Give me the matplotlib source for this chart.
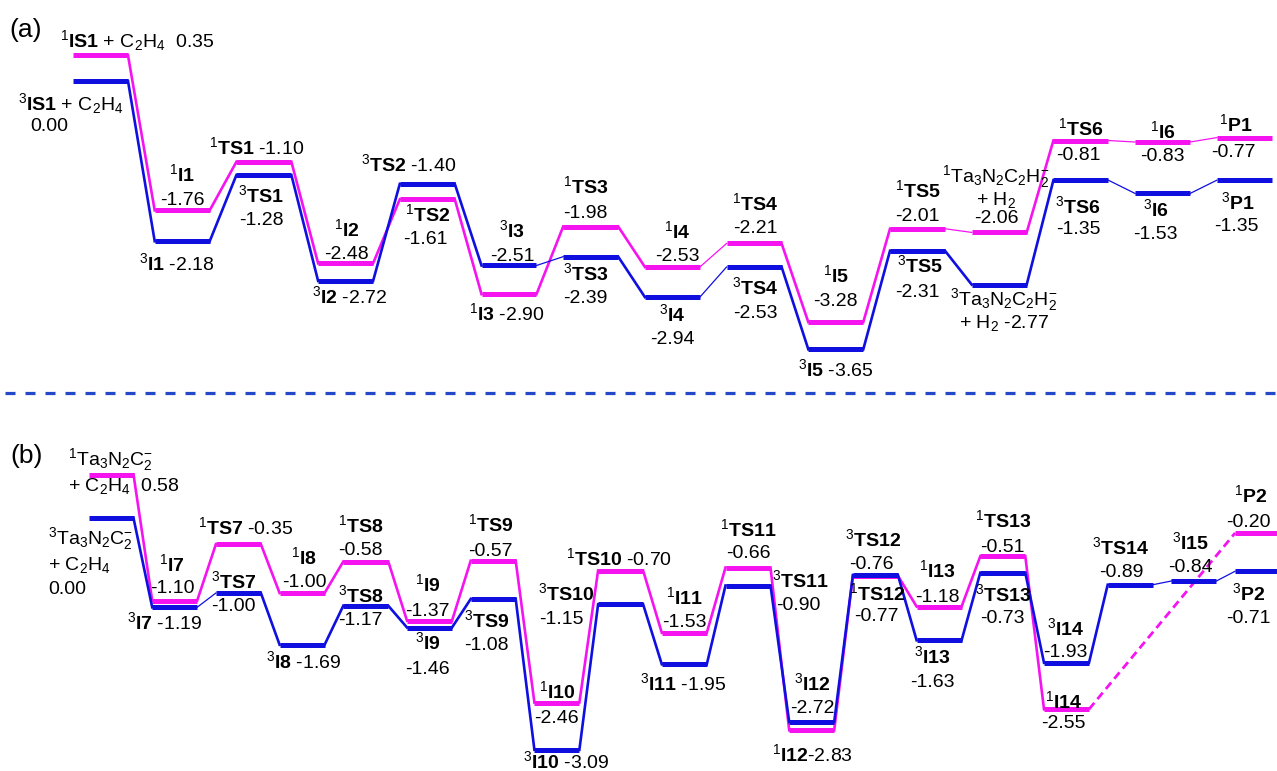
import matplotlib
matplotlib.use("Agg")
import matplotlib.pyplot as plt
from matplotlib.lines import Line2D

plt.rcParams['font.family'] = ['Liberation Sans', 'DejaVu Sans']
plt.rcParams['mathtext.fontset'] = 'custom'
plt.rcParams['mathtext.rm'] = 'Liberation Sans'
plt.rcParams['mathtext.it'] = 'Liberation Sans:italic'
plt.rcParams['mathtext.bf'] = 'Liberation Sans:bold'
plt.rcParams['mathtext.sf'] = 'Liberation Sans'
plt.rcParams['lines.scale_dashes'] = False

# ---------------- data ----------------
a_species = ["IS1", "I1", "TS1", "I2", "TS2", "I3", "TS3", "I4", "TS4", "I5",
             "TS5", "Ta3N2C2H2-", "TS6", "I6", "P1"]
a_singlet = [0.35, -1.76, -1.10, -2.48, -1.61, -2.90, -1.98, -2.53, -2.21, -3.28,
             -2.01, -2.06, -0.81, -0.83, -0.77]
a_triplet = [0.00, -2.18, -1.28, -2.72, -1.40, -2.51, -2.39, -2.94, -2.53, -3.65,
             -2.31, -2.77, -1.35, -1.53, -1.35]

b_species = ["Ta3N2C2-", "I7", "TS7", "I8", "TS8", "I9", "TS9", "I10", "TS10", "I11",
             "TS11", "I12", "TS12", "I13", "TS13", "I14", "TS14", "I15", "P2"]
b_singlet = [0.58, -1.10, -0.35, -1.00, -0.58, -1.37, -0.57, -2.46, -0.70, -1.53,
             -0.66, -2.83, -0.77, -1.18, -0.51, -2.55, None, None, -0.20]
b_triplet = [0.00, -1.19, -1.00, -1.69, -1.17, -1.46, -1.08, -3.09, -1.15, -1.95,
             -0.90, -2.72, -0.76, -1.63, -0.73, -1.93, -0.89, -0.84, -0.71]

# ---------------- style ----------------
MAG = '#F514F0'
BLU = '#0F0FE0'
SEP = '#2348C8'
FS = 14
W, H = 1277, 771

SPECIES_TEX = {"Ta3N2C2H2-": r"Ta$_3$N$_2$C$_2$H$_2^{-}$",
               "Ta3N2C2-": r"Ta$_3$N$_2$C$_2^{-}$"}


def name_tex(spin, sp):
    if sp in SPECIES_TEX:
        return rf"$^{{{spin}}}$" + SPECIES_TEX[sp]
    return rf"$^{{{spin}}}\mathbf{{{sp}}}$"


fig = plt.figure(figsize=(W / 100, H / 100), dpi=100)
ax_a = fig.add_axes([0, (H - 395) / H, 1, 395 / H])
ax_b = fig.add_axes([0, 0, 1, (H - 395) / H])

ax_a.set_xlim(-100.5 / 81.7, (W - 100.5) / 81.7)
ax_a.set_ylim((81 - 395) / 73.5, 81 / 73.5)
ax_b.set_xlim(-111 / 63.7, (W - 111) / 63.7)
ax_b.set_ylim((518 - 771) / 75, (518 - 395) / 75)
for ax in (ax_a, ax_b):
    ax.axis('off')


def draw(ax, E, color, hw, thin, z):
    pts = [(i, e) for i, e in enumerate(E) if e is not None]
    for i, e in pts:
        ax.plot([i - hw, i + hw], [e, e], color=color, lw=3.6,
                solid_capstyle='butt', zorder=z + 1)
    for (i0, e0), (i1, e1) in zip(pts[:-1], pts[1:]):
        if i1 - i0 > 1:
            ax.plot([i0 + hw, i1 - hw], [e0, e1], color=color, lw=2.0,
                    dashes=(6, 3.5), zorder=z)
        else:
            ax.plot([i0 + hw, i1 - hw], [e0, e1], color=color,
                    lw=0.9 if i0 in thin else 1.9, zorder=z)


HW_A = 27.5 / 81.7
HW_B = 22.5 / 63.7
draw(ax_a, a_singlet, MAG, HW_A, {7, 10, 12, 13}, 2)
draw(ax_a, a_triplet, BLU, HW_A, {5, 7, 12, 13}, 4)
draw(ax_b, b_singlet, MAG, HW_B, set(), 2)
draw(ax_b, b_triplet, BLU, HW_B, {1, 16, 17}, 4)

# label specs: (spin, index, template, dx px, dy px (line centre, up), ha)
labels_a = [
    ("1", 0, "{n} + C$_2$H$_4$  {v}", -40, 15, "left"),
    ("3", 0, "{n} + C$_2$H$_4$", -82, -22, "left"),
    ("3", 0, "{v}", -70, -43, "left"),
    ("1", 1, "{n}", 0, 36), ("1", 1, "{v}", 0, 12),
    ("3", 1, "{n} {v}", -5, -22),
    ("1", 2, "{n} {v}", -7, 15),
    ("3", 2, "{n}", -3, -20), ("3", 2, "{v}", -3, -43),
    ("1", 3, "{n}", 1, 34), ("1", 3, "{v}", 1, 11),
    ("3", 3, "{n} {v}", 4, -15),
    ("3", 4, "{n} {v}", -19, 20),
    ("1", 4, "{n}", 0, -15), ("1", 4, "{v}", -2, -38),
    ("3", 5, "{n}", 3, 35), ("3", 5, "{v}", 3, 11),
    ("1", 5, "{n} {v}", -2, -19),
    ("1", 6, "{n}", -5, 40), ("1", 6, "{v}", -5, 15),
    ("3", 6, "{n}", -5, -16), ("3", 6, "{v}", -5, -39),
    ("1", 7, "{n}", 5, 36), ("1", 7, "{v}", 5, 13),
    ("3", 7, "{n}", 0, -17), ("3", 7, "{v}", 0, -40),
    ("1", 8, "{n}", 1, 40), ("1", 8, "{v}", 1, 17),
    ("3", 8, "{n}", 1, -20), ("3", 8, "{v}", 1, -44),
    ("1", 9, "{n}", 0, 47), ("1", 9, "{v}", 0, 23),
    ("3", 9, "{n} {v}", 0, -20),
    ("1", 10, "{n}", 0, 39), ("1", 10, "{v}", 0, 15),
    ("3", 10, "{n}", 2, -14), ("3", 10, "{v}", 0, -39),
    ("1", 11, "{n}", -3, 57), ("1", 11, "+ H$_2$", -3, 34), ("1", 11, "{v}", -3, 16),
    ("3", 11, "{n}", 5, -14), ("3", 11, "+ H$_2$ {v}", 5, -36),
    ("1", 12, "{n}", 0, 12), ("1", 12, "{v}", -3, -13),
    ("1", 13, "{n}", 0, 11), ("1", 13, "{v}", 0, -12),
    ("1", 14, "{n}", -8, 13), ("1", 14, "{v}", -11, -12),
    ("3", 12, "{n}", -3, -26), ("3", 12, "{v}", -3, -47),
    ("3", 13, "{n}", -7, -16), ("3", 13, "{v}", -7, -39),
    ("3", 14, "{n}", -6, -22), ("3", 14, "{v}", -8, -44),
]

labels_b = [
    ("1", 0, "{n}", -43, 16, "left"), ("1", 0, "+ C$_2$H$_4$  {v}", -43, -10, "left"),
    ("3", 0, "{n}", -63, -19, "left"), ("3", 0, "+ C$_2$H$_4$", -63, -45, "left"),
    ("3", 0, "{v}", -63, -69, "left"),
    ("1", 1, "{n}", -3, 36), ("1", 1, "{v}", -2, 14),
    ("3", 1, "{n} {v}", -10, -15),
    ("1", 2, "{n} {v}", 7, 17),
    ("3", 2, "{n}", -5, 12), ("3", 2, "{v}", -5, -11),
    ("1", 3, "{n}", 2, 36), ("1", 3, "{v}", 2, 13),
    ("3", 3, "{n} {v}", 2, -16),
    ("1", 4, "{n}", -5, 36), ("1", 4, "{v}", -5, 13),
    ("3", 4, "{n}", -5, 11), ("3", 4, "{v}", -5, -12),
    ("1", 5, "{n}", -2, 37), ("1", 5, "{v}", -2, 12),
    ("3", 5, "{n}", -2, -15), ("3", 5, "{v}", -2, -40),
    ("1", 6, "{n}", -3, 37), ("1", 6, "{v}", -3, 12),
    ("3", 6, "{n}", -7, -21), ("3", 6, "{v}", -7, -44),
    ("1", 7, "{n}", 0, 11), ("1", 7, "{v}", 0, -14),
    ("3", 7, "{n} {v}", 9, -11),
    ("1", 8, "{n} {v}", -2, 12),
    ("3", 8, "{n}", -55, 11), ("3", 8, "{v}", -59, -13),
    ("1", 9, "{n}", 0, 36), ("1", 9, "{v}", 0, 13),
    ("3", 9, "{n} {v}", -1, -19),
    ("1", 10, "{n}", 0, 38), ("1", 10, "{v}", 0, 16),
    ("3", 10, "{n}", 52, 5), ("3", 10, "{v}", 50, -18),
    ("3", 11, "{n}", 1, 39), ("3", 11, "{v}", 1, 16),
    ("1", 11, "{n}{v}", 1, -24),
    ("3", 12, "{n}", -2, 36), ("3", 12, "{v}", -4, 13),
    ("1", 12, "{n}", 2, -17), ("1", 12, "{v}", 1, -38),
    ("1", 13, "{n}", -2, 36), ("1", 13, "{v}", -2, 11),
    ("3", 13, "{n}", -7, -16), ("3", 13, "{v}", -7, -40),
    ("1", 14, "{n}", 0, 36), ("1", 14, "{v}", 0, 11),
    ("3", 14, "{n}", 0, -21), ("3", 14, "{v}", 0, -43),
    ("3", 15, "{n}", -1, 35), ("3", 15, "{v}", -1, 13),
    ("1", 15, "{n}", -3, 8), ("1", 15, "{v}", -3, -12),
    ("3", 16, "{n}", -10, 38), ("3", 16, "{v}", -9, 15),
    ("3", 17, "{n}", -3, 39), ("3", 17, "{v}", -3, 16),
    ("1", 18, "{n}", -7, 38), ("1", 18, "{v}", -9, 13),
    ("3", 18, "{n}", -9, -22), ("3", 18, "{v}", -9, -45),
]

BASE = 0.358 * FS * 100 / 72  # half cap height in px


def put_labels(ax, specs, species, singlet, triplet):
    for spec in specs:
        spin, i, tpl, dx, dy = spec[:5]
        ha = spec[5] if len(spec) > 5 else "center"
        E = singlet[i] if spin == "1" else triplet[i]
        txt = tpl.format(n=name_tex(spin, species[i]), v=f"{E:.2f}")
        ax.annotate(txt, xy=(i, E), xytext=(dx, dy - BASE),
                    textcoords='offset pixels', ha=ha, va='baseline',
                    fontsize=FS, color='black', zorder=10)


put_labels(ax_a, labels_a, a_species, a_singlet, a_triplet)
put_labels(ax_b, labels_b, b_species, b_singlet, b_triplet)

fig.text(9 / W, 1 - 30 / H, "(a)", fontsize=19, ha='left', va='center')
fig.text(10 / W, 1 - 456 / H, "(b)", fontsize=19, ha='left', va='center')

fig.add_artist(Line2D([5 / W, 1], [1 - 393 / H, 1 - 393 / H],
                      transform=fig.transFigure, color=SEP, lw=2.3,
                      dashes=(7.2, 7.2)))

fig.savefig("out.png", dpi=100)
